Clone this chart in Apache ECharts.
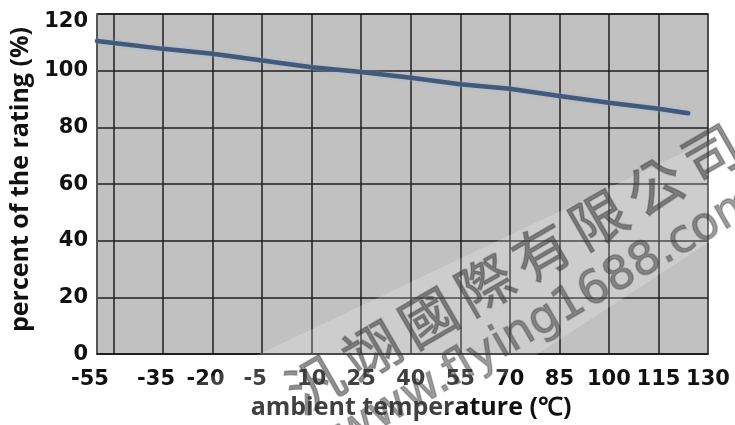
<!DOCTYPE html>
<html>
<head>
<meta charset="utf-8">
<script src="https://cdn.jsdelivr.net/npm/echarts@6/dist/echarts.min.js"></script>
<style>
html,body{margin:0;padding:0;background:#fff;}
#chart{width:735px;height:425px;}
</style>
</head>
<body>
<div id="chart"></div>
<script>
// ---- data ----
const xTickLabels = [-55, -35, -20, -5, 10, 25, 40, 55, 70, 85, 100, 115, 130];
const xGridValues = [-50, -35, -20, -5, 10, 25, 40, 55, 70, 85, 100, 115];
const temperatures = [-55, -35, -20, -5, 10, 25, 40, 55, 70, 85, 100, 115, 124];
const ratingPercent = [110.5, 107.7, 106, 103.6, 101.2, 99.5, 97.5, 95.2, 93.6, 91.1, 88.7, 86.6, 85];
const xTitle = 'ambient temperature (\u2103)';
const yTitle = 'percent of the rating (%)';
const watermarkCN = '汎翊國際有限公司';
const watermarkURL = 'www.flying1688.com';

const chart = echarts.init(document.getElementById('chart'), null, {renderer: 'canvas'});

const labelFont = {fontFamily: 'DejaVu Sans', fontWeight: 'bold', fontSize: 21, color: '#111'};
const titleFont = {fontFamily: 'Open Sans', fontWeight: 'bold', fontSize: 25, color: '#111'};

// watermark graphics
const wm = [];
wm.push({
  type: 'polygon', silent: true, z: 100,
  shape: {points: [[110, 425], [735, 128], [735, 225], [429, 425]]},
  style: {fill: 'rgba(255,255,255,0.2)'}
});
watermarkCN.split('').forEach((c, i) => {
  wm.push({
    type: 'text', silent: true, z: 101,
    x: 315 + i * 56.6, y: 383 - i * 32.8,
    rotation: Math.PI / 6,
    style: {
      text: c, fontFamily: 'Noto Sans CJK TC', fontWeight: 'normal', fontSize: 56,
      fill: 'rgba(55,55,55,0.55)', stroke: 'rgba(60,60,60,0.35)', lineWidth: 1.5,
      align: 'center', verticalAlign: 'middle'
    }
  });
});
wm.push({
  type: 'text', silent: true, z: 101,
  x: 340, y: 438, rotation: Math.PI / 6,
  style: {
    text: watermarkURL, fontFamily: 'DejaVu Sans', fontSize: 46,
    fill: 'rgba(55,55,55,0.5)', stroke: 'rgba(60,60,60,0.3)', lineWidth: 1.5,
    align: 'left', verticalAlign: 'middle'
  }
});

const option = {
  animation: false,
  backgroundColor: '#ffffff',
  grid: {
    left: 97, right: 27, top: 14, bottom: 68,
    show: true, backgroundColor: '#c1c1c1', borderColor: '#1e1e1e', borderWidth: 1.5,
    containLabel: false
  },
  xAxis: {
    type: 'value', min: -55, max: 130, interval: 5,
    axisLine: {show: true, onZero: false, lineStyle: {color: '#1e1e1e', width: 1.5}},
    axisTick: {show: false},
    splitLine: {show: false},
    axisLabel: Object.assign({}, labelFont, {
      margin: 15,
      formatter: function (v) {
        if (xTickLabels.indexOf(v) < 0) return '';
        return v < 0 ? '{neg|' + v + '}' : String(v);
      },
      rich: {neg: Object.assign({}, labelFont, {padding: [0, 14, 0, 0]})}
    }),
    name: xTitle, nameLocation: 'middle', nameGap: 33,
    nameTextStyle: Object.assign({}, titleFont, {padding: [0, 0, 0, 17]})
  },
  yAxis: {
    type: 'value', min: 0, max: 120, interval: 20,
    axisLine: {show: true, onZero: false, lineStyle: {color: '#555', width: 1}},
    axisTick: {show: false},
    splitLine: {show: true, lineStyle: {color: '#1e1e1e', width: 1.5}},
    axisLabel: Object.assign({}, labelFont, {margin: 9, lineHeight: 16, verticalAlignMaxLabel: 'top'}),
    name: yTitle, nameLocation: 'middle', nameRotate: 90, nameGap: 60,
    nameTextStyle: Object.assign({}, titleFont, {padding: [0, 0, 0, 9]})
  },
  graphic: wm,
  series: [
    {
      type: 'line', data: [], z: 1, silent: true,
      markLine: {
        silent: true, symbol: ['none', 'none'],
        label: {show: false},
        lineStyle: {type: 'solid', color: '#1e1e1e', width: 1.5},
        data: xGridValues.map(v => ({xAxis: v}))
      }
    },
    {
      type: 'line', z: 5, showSymbol: false, symbol: 'none',
      data: temperatures.map((t, i) => [t, ratingPercent[i]]),
      lineStyle: {color: '#44587a', width: 4.5, cap: 'round',
        shadowColor: 'rgba(140,175,230,0.7)', shadowBlur: 3}
    }
  ]
};
chart.setOption(option);
</script>
</body>
</html>
